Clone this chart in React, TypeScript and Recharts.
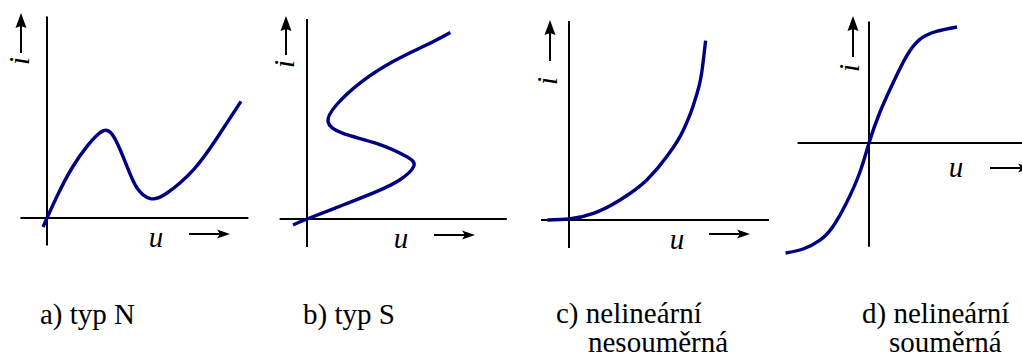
import type { CSSProperties } from 'react';
import { LineChart, Line, XAxis, YAxis, ReferenceLine } from 'recharts';

const NAVY = '#000080';
const INK = '#000';
const FONT_SIZE = 29;
// distance from the top of a line-height:1 box to the baseline
const ASCENT = 24.3;
// pixels per unit on both axes
const PX = 20;

// a) typ N
const typNU = [-0.2, 0, 0.58, 1.25, 2.0, 2.83, 3.42, 4.0, 4.5, 5.17, 6.0, 7.33, 8.5, 9.7];
const typNI = [-0.45, 0, 1.25, 2.5, 3.58, 4.37, 3.92, 2.58, 1.5, 0.97, 1.25, 2.42, 4.0, 5.83];

// b) typ S (u is not single valued in i, points kept in path order)
const typSU = [-0.7, 0, 1.8, 3.47, 4.63, 5.33, 4.97, 3.47, 1.8, 1.05, 1.47, 2.63, 4.3, 5.97, 7.17];
const typSI = [-0.3, 0, 0.7, 1.37, 1.95, 2.62, 3.12, 3.78, 4.28, 4.87, 5.7, 6.78, 7.87, 8.7, 9.33];

// c) nelineární nesouměrná
const nesomU = [-1.08, 0, 1.22, 2.55, 3.89, 4.89, 5.72, 6.3, 6.63, 6.83];
const nesomI = [0, 0.05, 0.33, 1.0, 2.0, 3.17, 4.5, 6.0, 7.33, 8.97];

// d) nelineární souměrná
const somU = [-4.17, -3.3, -2.47, -1.8, -1.13, -0.47, 0, 0.53, 1.2, 1.87, 2.53, 3.37, 4.4];
const somI = [-5.5, -5.3, -4.87, -4.17, -3.0, -1.5, 0, 1.5, 3.0, 4.33, 5.17, 5.58, 5.8];

const captions = [
  { lines: ['a) typ N'], x: [40], y: 324 },
  { lines: ['b) typ S'], x: [303], y: 324 },
  { lines: ['c) nelineární', 'nesouměrná'], x: [556, 588], y: 323 },
  { lines: ['d) nelineární', 'souměrná'], x: [862, 889], y: 323 },
];

const zip = (us: number[], is: number[]) => us.map((u, k) => ({ u, i: is[k] }));

type PanelProps = {
  data: { u: number; i: number }[];
  curve: 'monotone' | 'natural';
  originX: number;
  originY: number;
  uDomain: [number, number];
  iDomain: [number, number];
  uAxis: [number, number];
  iAxis: [number, number];
};

function Panel({ data, curve, originX, originY, uDomain, iDomain, uAxis, iAxis }: PanelProps) {
  const width = (uDomain[1] - uDomain[0]) * PX;
  const height = (iDomain[1] - iDomain[0]) * PX;
  const left = originX + uDomain[0] * PX;
  const top = originY - iDomain[1] * PX;
  return (
    <div style={{ position: 'absolute', left, top }}>
      <LineChart width={width} height={height} data={data} margin={{ top: 0, right: 0, bottom: 0, left: 0 }}>
        <XAxis type="number" dataKey="u" domain={uDomain} allowDataOverflow hide />
        <YAxis type="number" domain={iDomain} allowDataOverflow hide />
        <ReferenceLine segment={[{ x: uAxis[0], y: 0 }, { x: uAxis[1], y: 0 }]} stroke={INK} strokeWidth={2} />
        <ReferenceLine segment={[{ x: 0, y: iAxis[0] }, { x: 0, y: iAxis[1] }]} stroke={INK} strokeWidth={2} />
        <Line
          dataKey="i"
          type={curve}
          stroke={NAVY}
          strokeWidth={3.4}
          dot={false}
          isAnimationActive={false}
        />
      </LineChart>
    </div>
  );
}

function UpArrow({ x, tip, tail }: { x: number; tip: number; tail: number }) {
  return (
    <g>
      <line x1={x} y1={tail} x2={x} y2={tip + 10} stroke={INK} strokeWidth={2} />
      <path d={`M${x},${tip} L${x - 5.5},${tip + 15} L${x},${tip + 13} L${x + 5.5},${tip + 15} Z`} fill={INK} />
    </g>
  );
}

function RightArrow({ y, tail, tip }: { y: number; tail: number; tip: number }) {
  return (
    <g>
      <line x1={tail} y1={y} x2={tip - 6} y2={y} stroke={INK} strokeWidth={2} />
      <path d={`M${tip},${y} L${tip - 13},${y - 4.5} L${tip - 10},${y} L${tip - 13},${y + 4.5} Z`} fill={INK} />
    </g>
  );
}

// i: glyph centre + arrow; u: centre x and baseline + arrow
const iLabels = [
  { cx: 19, cy: 61, ax: 21, tip: 13, tail: 53 },
  { cx: 284, cy: 64, ax: 286, tip: 16, tail: 55 },
  { cx: 546.5, cy: 81, ax: 550, tip: 20, tail: 61 },
  { cx: 848.5, cy: 68, ax: 853, tip: 16, tail: 57 },
];

const uLabels = [
  { x: 156, y: 247, ay: 234, from: 189, to: 230 },
  { x: 401, y: 248, ay: 235, from: 434, to: 475 },
  { x: 677, y: 249, ay: 234, from: 709, to: 750 },
  { x: 956, y: 177, ay: 168, from: 990, to: 1031 },
];

// text keeps the page's default serif face
const baseText: CSSProperties = {
  position: 'absolute',
  fontSize: FONT_SIZE,
  lineHeight: 1,
  color: INK,
  whiteSpace: 'nowrap',
};

export default function App() {
  return (
    <div
      style={{
        position: 'absolute',
        left: 0,
        top: 0,
        width: 1022,
        height: 359,
        overflow: 'hidden',
        background: '#fff',
      }}
    >
      <Panel
        data={zip(typNU, typNI)}
        curve="natural"
        originX={46.7}
        originY={218.3}
        uDomain={[-2, 10.5]}
        iDomain={[-2, 10.5]}
        uAxis={[-1.33, 10.07]}
        iAxis={[-1.38, 10.07]}
      />
      <Panel
        data={zip(typSU, typSI)}
        curve="natural"
        originX={307.3}
        originY={219}
        uDomain={[-2, 10.5]}
        iDomain={[-2, 10.5]}
        uAxis={[-1.37, 9.99]}
        iAxis={[-1.4, 10]}
      />
      <Panel
        data={zip(nesomU, nesomI)}
        curve="monotone"
        originX={569}
        originY={220}
        uDomain={[-2, 10.5]}
        iDomain={[-2, 10.5]}
        uAxis={[-1.4, 10]}
        iAxis={[-1.4, 9.95]}
      />
      <Panel
        data={zip(somU, somI)}
        curve="natural"
        originX={869.3}
        originY={143.3}
        uDomain={[-5, 8.5]}
        iDomain={[-6, 7]}
        uAxis={[-3.57, 8.3]}
        iAxis={[-5.19, 6.07]}
      />
      <svg width={1022} height={359} style={{ position: 'absolute', left: 0, top: 0 }}>
        {iLabels.map((l, k) => (
          <UpArrow key={`ia${k}`} x={l.ax} tip={l.tip} tail={l.tail} />
        ))}
        {uLabels.map((l, k) => (
          <RightArrow key={`ua${k}`} y={l.ay} tail={l.from} tip={l.to} />
        ))}
      </svg>
      {iLabels.map((l, k) => (
        <div
          key={`i${k}`}
          style={{
            ...baseText,
            left: l.cx,
            top: l.cy,
            fontStyle: 'italic',
            transform: 'translate(-50%, -50%) rotate(-90deg)',
          }}
        >
          i
        </div>
      ))}
      {uLabels.map((l, k) => (
        <div
          key={`u${k}`}
          style={{
            ...baseText,
            left: l.x - 20,
            width: 40,
            textAlign: 'center',
            top: l.y - ASCENT,
            fontStyle: 'italic',
          }}
        >
          u
        </div>
      ))}
      {captions.map((c, k) =>
        c.lines.map((line, j) => (
          <div key={`c${k}-${j}`} style={{ ...baseText, left: c.x[j], top: c.y + j * 29 - ASCENT }}>
            {line}
          </div>
        ))
      )}
    </div>
  );
}
